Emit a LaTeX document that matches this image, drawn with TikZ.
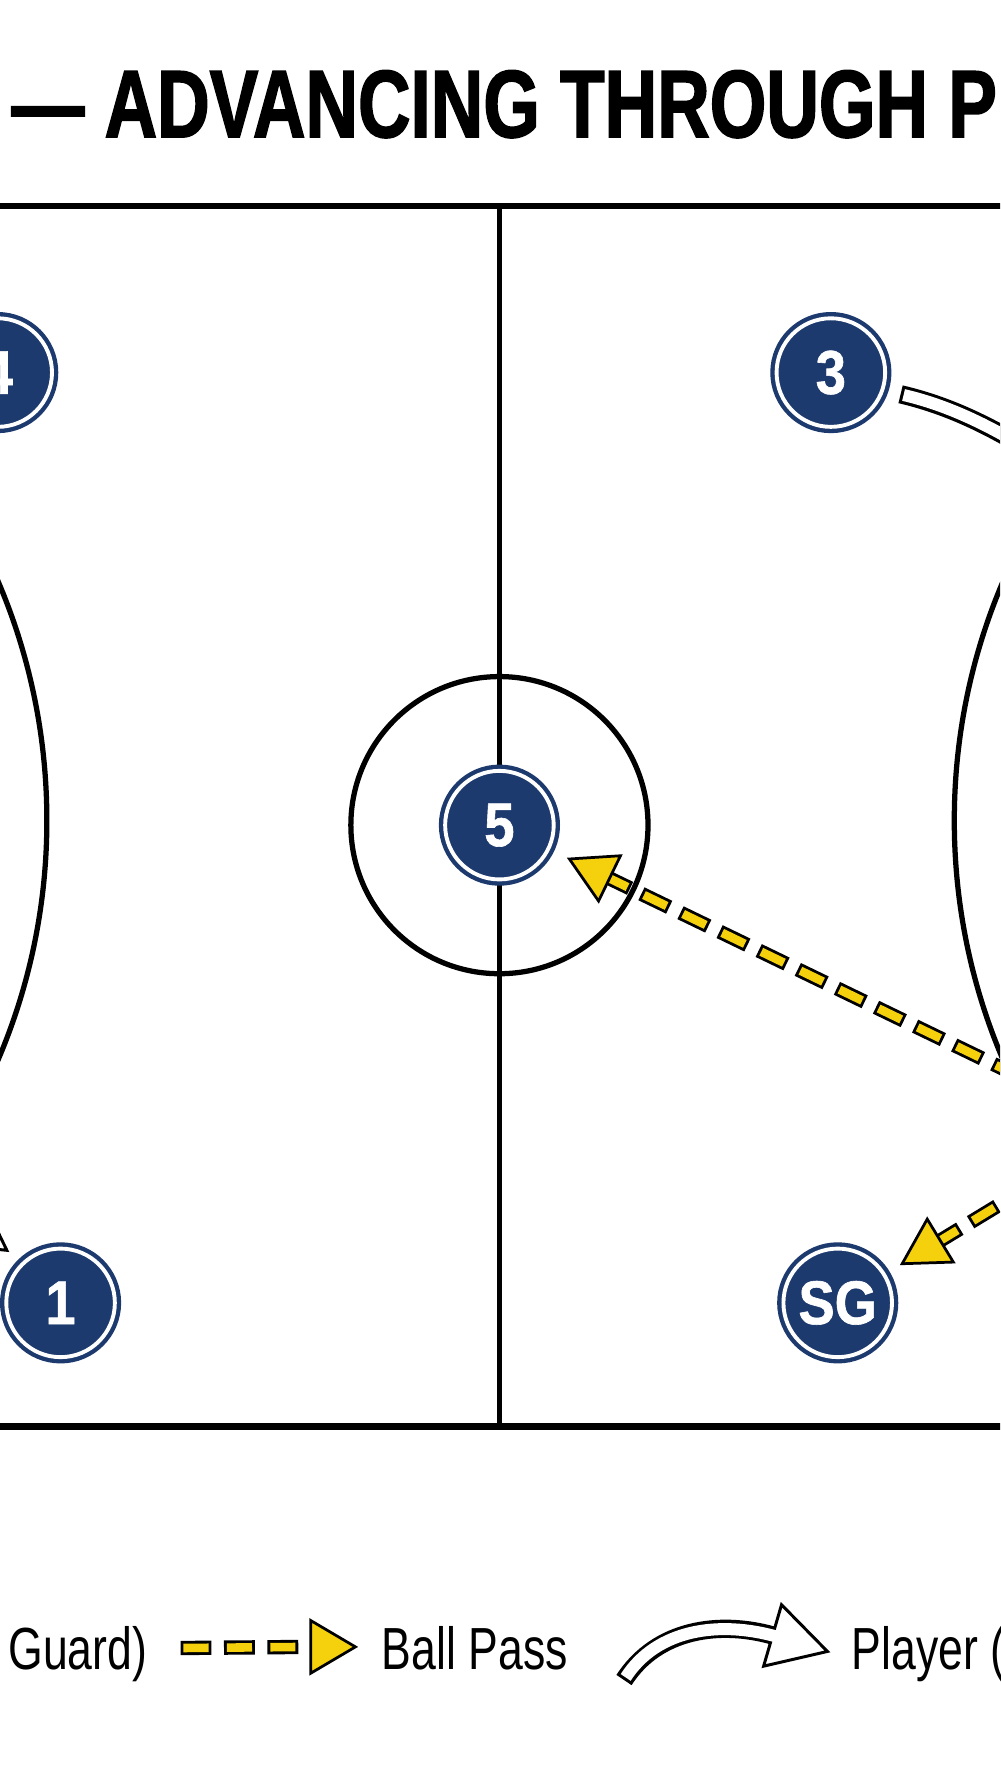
\documentclass[tikz,border=0pt]{standalone}
\usepackage{fontspec}
\usetikzlibrary{calc}
\setmainfont{Liberation Sans}
\newfontfamily\titlefont[FakeStretch=0.76,FakeBold=1.6]{Liberation Sans}
\newfontfamily\legendfont[FakeStretch=0.75]{Liberation Sans}
\newfontfamily\playerfont[FakeStretch=0.88,FakeBold=1]{Liberation Sans}
\definecolor{navy}{HTML}{1D3A6E}
\definecolor{passyellow}{HTML}{F5D10D}

\begin{document}
\begin{tikzpicture}[
            x=1pt,y=-1pt,
            courtline/.style={line width=4.6pt,draw=black},
            player/.style={circle,fill=navy,draw=navy,double=white,
                    double distance=3.4pt,line width=3.8pt,minimum size=95pt,
                    inner sep=0pt,text=white,
                    font=\playerfont\bfseries\fontsize{54}{54}\selectfont},
            passout/.style={line width=12.5pt,draw=black,dash pattern=on 27pt off 11pt},
            passin/.style={line width=7.5pt,draw=passyellow,dash pattern=on 22pt off 16pt,dash phase=35.5pt},
            passhead/.style={fill=passyellow,draw=black,line width=2.4pt,line join=miter},
            moveout/.style={line width=16pt,draw=black},
            movein/.style={line width=10.5pt,draw=white},
            movehead/.style={fill=white,draw=black,line width=2.6pt,line join=miter},
            legend/.style={inner sep=0pt,font=\legendfont\fontsize{52}{52}\selectfont},
        ]

        \useasboundingbox (0,0) rectangle (875,1568);
        \clip (0,0) rectangle (875,1568);
        \fill[white] (0,0) rectangle (875,1568);

        % Title
        \node[anchor=base west,inner sep=0pt,
            font=\titlefont\bfseries\fontsize{83.8}{90}\selectfont] (title) at (10,120)
            {— ADVANCING THROUGH PL};

        % Court lines
        \draw[courtline,line width=5.6pt] (-10,180) -- (885,180);
        \draw[courtline,line width=5.6pt] (-10,1248) -- (885,1248);
        \draw[courtline] (437,180) -- (437,1248);
        \draw[courtline] (437,722) circle (130);

        % Goal circles
        \draw[courtline] (-492,718) circle (533);
        \draw[courtline] (1368,718) circle (533);

        % Players
        \node[player] (p4) at (-2,326) {4};
        \node[player] (p3) at (727,326) {3};
        \node[player] (p5) at (437,722) {5};
        \node[player] (p1) at (53,1140) {1};
        \node[player] (pSG) at (733,1140) {SG};

        % Ball passes
        \coordinate (ballR) at (985,987);

        \coordinate (t5) at ($(p5)!68pt!(ballR)$);
        \coordinate (b5) at ($(p5)!107pt!(ballR)$);
        \draw[passout] ($(p5)!100pt!(ballR)$) -- (ballR);
        \draw[passin] ($(p5)!100pt!(ballR)$) -- (ballR);
        \filldraw[passhead] (t5) -- ($(b5)!22pt!90:(ballR)$) -- ($(b5)!22pt!-90:(ballR)$) -- cycle;

        \coordinate (tSG) at ($(pSG)!66pt!(ballR)$);
        \coordinate (bSG) at ($(pSG)!105pt!(ballR)$);
        \draw[passout] ($(pSG)!98pt!(ballR)$) -- (ballR);
        \draw[passin] ($(pSG)!98pt!(ballR)$) -- (ballR);
        \filldraw[passhead] (tSG) -- ($(bSG)!22pt!90:(ballR)$) -- ($(bSG)!22pt!-90:(ballR)$) -- cycle;

        % Player movement from 3
        \coordinate (m3a) at ($(p3)+(61,19)$);
        \coordinate (m3b) at (940,420);
        \draw[moveout] (m3a) .. controls (835,356) and (880,378) .. (m3b);
        \draw[movein,shorten <=2.7pt] (m3a) .. controls (835,356) and (880,378) .. (m3b);

        % Player movement to 1
        \coordinate (m1a) at (-130,930);
        \coordinate (m1tip) at (6,1094);
        \coordinate (m1base) at ($(m1tip)+(-41,-28.7)$);
        \draw[moveout] (m1a) .. controls (-90,1000) and (-65,1045) .. (m1base);
        \filldraw[movehead] (m1tip) -- ($(m1base)!28pt!90:(m1tip)$) -- ($(m1base)!28pt!-90:(m1tip)$) -- cycle;
        \draw[movein,shorten >=-3pt] (m1a) .. controls (-90,1000) and (-65,1045) .. (m1base);

        % Legend
        \node[legend,anchor=base east] (lgguard) at (129,1461) {Guard)};

        \coordinate (lpa) at (158,1442);
        \coordinate (lpb) at (272,1441);
        \coordinate (lptip) at (311,1441);
        \draw[passout] (lpa) -- (lpb);
        \draw[passin] (lpa) -- (lpb);
        \filldraw[passhead] (lptip) -- ($(lpb)!23pt!90:(lptip)$) -- ($(lpb)!23pt!-90:(lptip)$) -- cycle;
        \node[legend,anchor=base west] (lgpass) at (334,1461) {Ball Pass};

        \coordinate (lma) at (546,1470);
        \coordinate (lmbase) at (676,1431);
        \coordinate (lmtip) at (724,1445);
        \draw[moveout] (lma) .. controls (575,1425) and (630,1418) .. (lmbase);
        \filldraw[movehead] (lmtip) -- ($(lmbase)!28pt!90:(lmtip)$) -- ($(lmbase)!28pt!-90:(lmtip)$) -- cycle;
        \draw[movein,shorten <=2.7pt,shorten >=-3.5pt] (lma) .. controls (575,1425) and (630,1418) .. (lmbase);
        \node[legend,anchor=base west] (lgmove) at (745,1461) {Player (};

    \end{tikzpicture}
\end{document}
